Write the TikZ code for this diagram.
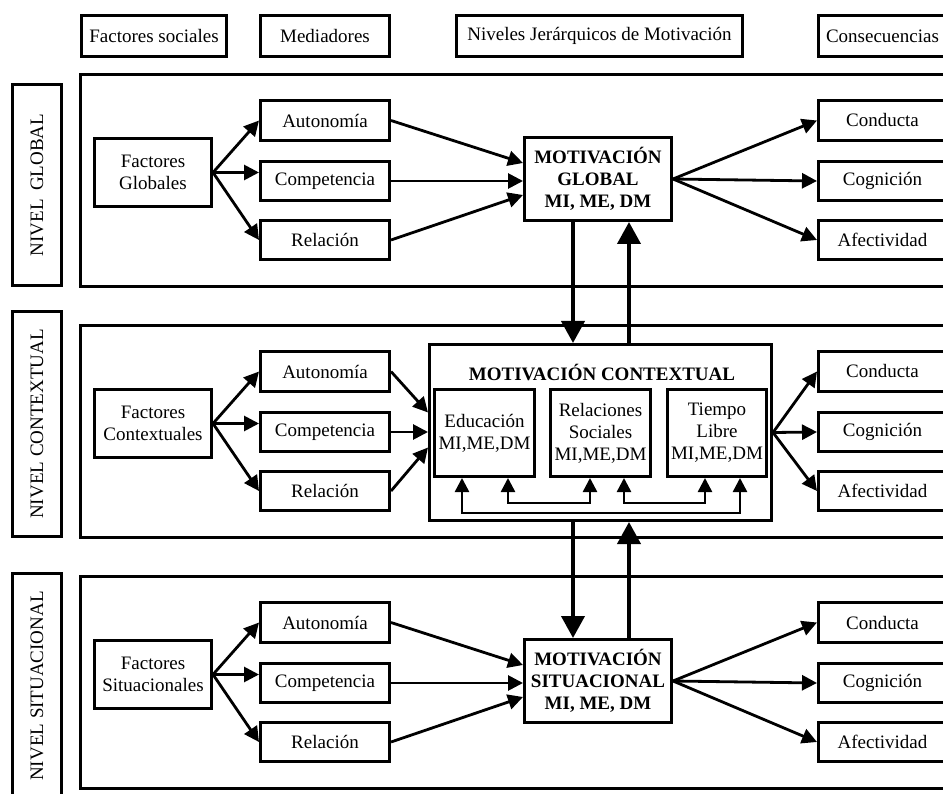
\documentclass[tikz,border=0pt]{standalone}
\usepackage{fontspec}
\setmainfont{Liberation Serif}
\usetikzlibrary{arrows.meta,calc}
\tikzset{
  box/.style={draw, line width=2.8pt, inner sep=0pt, align=center, font=\fontsize{19}{22}\selectfont},
  bbox/.style={box, font=\fontsize{19}{22}\selectfont\bfseries},
  arr/.style={line width=2.8pt, -{Triangle[length=15pt,width=15pt]}},
  varr/.style={line width=4pt, -{Triangle[length=22pt,width=23pt]}},
  fb/.style={line width=2.5pt, {Triangle[length=14pt,width=14pt]}-{Triangle[length=14pt,width=14pt]}},
}
\newcommand\mybox[7][box]{\node[#1,minimum width={#5-#3-2.8},minimum height={#6-#4-2.8}] (#2) at ({(#3+#5)/2},{(#4+#6)/2}) {#7};}
\begin{document}
\begin{tikzpicture}[x=1pt,y=-1pt]
\useasboundingbox (0,0) rectangle (943,794);
\fill[white] (0,0) rectangle (943,794);
\clip (0,0) rectangle (943,794);

% headers
\mybox{hfs}{80}{14}{228}{58}{Factores sociales}
\mybox{hmed}{259}{14}{391}{58}{Mediadores}
\mybox{hniv}{455}{14}{744}{58}{Niveles Jerárquicos de Motivación}
\mybox{hcon}{817}{14}{948}{58}{Consecuencias}

% level frames
\mybox{lvg}{79}{73}{958}{288}{}
\mybox{lvc}{79}{324}{958}{539}{}
\mybox{lvs}{79}{575}{958}{790}{}

% side labels
\node[box, rotate=90, minimum width=201, minimum height=49] (sg) at (37,185) {NIVEL\hspace{0.45em}GLOBAL};
\node[box, rotate=90, minimum width=225, minimum height=49] (sc) at (37,424) {NIVEL CONTEXTUAL};
\node[box, rotate=90, minimum width=225, minimum height=49] (ss) at (37,686) {NIVEL SITUACIONAL};

% ---- global row
\mybox{fg}{93}{137}{213}{208}{Factores\\Globales}
\mybox{aut1}{259}{99}{391}{142}{Autonomía}
\mybox{comp1}{259}{160}{391}{202}{Competencia}
\mybox{rel1}{259}{219}{391}{261}{Relación}
\mybox[bbox]{mg}{523}{136}{673}{222}{MOTIVACIÓN\\GLOBAL\\MI, ME, DM}
\mybox{cond1}{817}{99}{948}{142}{Conducta}
\mybox{cog1}{817}{160}{948}{202}{Cognición}
\mybox{afe1}{817}{219}{948}{261}{Afectividad}

% ---- contextual row
\mybox{fc}{93}{388}{213}{459}{Factores\\Contextuales}
\mybox{aut2}{259}{350}{391}{393}{Autonomía}
\mybox{comp2}{259}{411}{391}{453}{Competencia}
\mybox{rel2}{259}{470}{391}{512}{Relación}
\mybox{mc}{428}{343}{773}{522}{}
\node[font=\fontsize{19}{22}\selectfont\bfseries, inner sep=0pt] (mct) at (602,372) {MOTIVACIÓN CONTEXTUAL};
\mybox{edu}{433}{388}{536}{478}{Educación\\MI,ME,DM}
\mybox{rs}{549}{388}{652}{478}{Relaciones\\Sociales\\MI,ME,DM}
\mybox{tl}{666}{388}{768}{478}{Tiempo\\Libre\\MI,ME,DM}
\mybox{cond2}{817}{350}{948}{393}{Conducta}
\mybox{cog2}{817}{411}{948}{453}{Cognición}
\mybox{afe2}{817}{470}{948}{512}{Afectividad}

% ---- situational row
\mybox{fs}{93}{639}{213}{710}{Factores\\Situacionales}
\mybox{aut3}{259}{601}{391}{644}{Autonomía}
\mybox{comp3}{259}{662}{391}{704}{Competencia}
\mybox{rel3}{259}{721}{391}{763}{Relación}
\mybox[bbox]{ms}{523}{638}{673}{724}{MOTIVACIÓN\\SITUACIONAL\\MI, ME, DM}
\mybox{cond3}{817}{601}{948}{644}{Conducta}
\mybox{cog3}{817}{662}{948}{704}{Cognición}
\mybox{afe3}{817}{721}{948}{763}{Afectividad}

% ---- arrows global
\draw[arr] (fg.east) -- (aut1.west);
\draw[arr] (fg.east) -- (fg.east -| comp1.west);
\draw[arr] (fg.east) -- (rel1.west);
\draw[arr] (aut1.east) -- ($(mg.west)+(0,-16)$);
\draw[arr] (comp1.east) -- (comp1.east -| mg.west);
\draw[arr] (rel1.east) -- ($(mg.west)+(0,16)$);
\draw[arr] (mg.east) -- (cond1.west);
\draw[arr] (mg.east) -- (cog1.west);
\draw[arr] (mg.east) -- (afe1.west);

% ---- arrows contextual
\draw[arr] (fc.east) -- (aut2.west);
\draw[arr] (fc.east) -- (fc.east -| comp2.west);
\draw[arr] (fc.east) -- (rel2.west);
\draw[arr] (aut2.east) -- ($(mc.west)+(0,-20)$);
\draw[arr] (comp2.east) -- (comp2.east -| mc.west);
\draw[arr] (rel2.east) -- ($(mc.west)+(0,15)$);
\draw[arr] (mc.east) -- (cond2.west);
\draw[arr] (mc.east) -- (cog2.west);
\draw[arr] (mc.east) -- (afe2.west);

% ---- arrows situational
\draw[arr] (fs.east) -- (aut3.west);
\draw[arr] (fs.east) -- (fs.east -| comp3.west);
\draw[arr] (fs.east) -- (rel3.west);
\draw[arr] (aut3.east) -- ($(ms.west)+(0,-16)$);
\draw[arr] (comp3.east) -- (comp3.east -| ms.west);
\draw[arr] (rel3.east) -- ($(ms.west)+(0,16)$);
\draw[arr] (ms.east) -- (cond3.west);
\draw[arr] (ms.east) -- (cog3.west);
\draw[arr] (ms.east) -- (afe3.west);

% ---- vertical arrows between levels
\coordinate (xl) at (573,0);
\coordinate (xr) at (629,0);
\draw[varr] (mg.south -| xl) -- (mc.north -| xl);
\draw[varr] (mc.north -| xr) -- (mg.south -| xr);
\draw[varr] (mc.south -| xl) -- (ms.north -| xl);
\draw[varr] (ms.north -| xr) -- (mc.south -| xr);

% ---- feedback arrows inside contextual motivation
\coordinate (f1) at (462,513);
\coordinate (f2) at (740,513);
\coordinate (f3) at (508,503);
\coordinate (f4) at (590,503);
\coordinate (f5) at (624,503);
\coordinate (f6) at (705,503);
\draw[fb] (edu.south -| f1) -- (f1) -- (f2) -- (tl.south -| f2);
\draw[fb] (edu.south -| f3) -- (f3) -- (f4) -- (rs.south -| f4);
\draw[fb] (rs.south -| f5) -- (f5) -- (f6) -- (tl.south -| f6);
\end{tikzpicture}
\end{document}
